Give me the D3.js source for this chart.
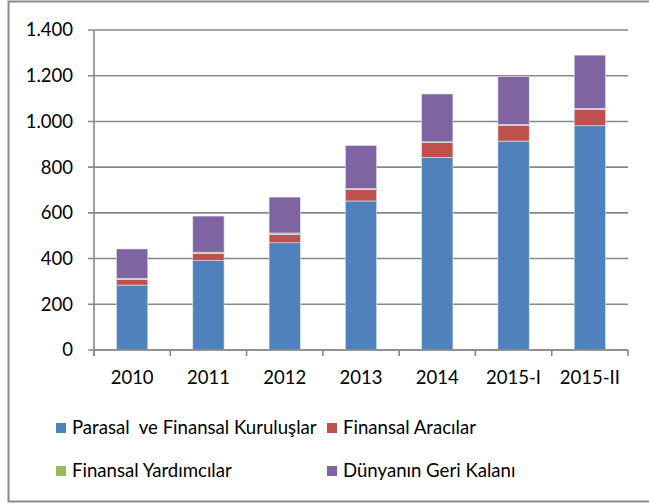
<!DOCTYPE html>
<html>
<head>
<meta charset="utf-8">
<script src="https://cdn.jsdelivr.net/npm/d3@7"></script>
<style>
  body { margin: 0; background: #fff; }
  svg text { font-family: Lato, "Open Sans", sans-serif; fill: #000; }
</style>
</head>
<body>
<svg id="chart" width="649" height="504"></svg>
<script>
var years = ['2010', '2011', '2012', '2013', '2014', '2015-I', '2015-II'];
var parasal = [284, 391, 469, 652, 843, 914, 981];
var aracilar = [25, 32, 37, 51, 64, 69, 72];
var yardimcilar = [4, 5, 6, 3, 4, 4, 4];
var dunya = [129, 158, 157, 189, 209, 209, 233];
var seriesNames = ['Parasal  ve Finansal Kuruluşlar', 'Finansal Aracılar', 'Finansal Yardımcılar', 'Dünyanın Geri Kalanı'];
var colors = ['#4f81bd', '#c0504d', '#9bbb59', '#8064a2'];
var yTicks = [0, 200, 400, 600, 800, 1000, 1200, 1400];

var svg = d3.select('#chart');
var plotLeft = 94, plotRight = 628, plotTop = 30, plotBottom = 350;

// outer frame
svg.append('rect')
	.attr('x', 8.5).attr('y', 1.5).attr('width', 660).attr('height', 500)
	.style('fill', 'none').style('stroke', '#8c8c8c').style('stroke-width', 2);

var x = d3.scaleBand().domain(years).range([plotLeft, plotRight]).paddingInner(0.59).paddingOuter(0.295);
var xb = d3.scaleBand().domain(years).range([plotLeft, plotRight]);
var y = d3.scaleLinear().domain([0, 1400]).range([plotBottom, plotTop]);

var fmt = function (d) { return d3.format(',')(d).replace(/,/g, '.'); };

// gridlines
svg.append('g').selectAll('line').data(yTicks).enter().append('line')
	.attr('x1', plotLeft - 6).attr('x2', plotRight)
	.attr('y1', function (d) { return y(d); }).attr('y2', function (d) { return y(d); })
	.style('stroke', '#888').style('stroke-width', 1.6);

svg.append('g').selectAll('text').data(yTicks).enter().append('text')
	.attr('x', 73).attr('y', function (d) { return y(d); })
	.attr('dy', '0.35em').attr('text-anchor', 'end')
	.style('font-size', '18.5px')
	.text(fmt);

// stacked bars
var rows = years.map(function (yr, i) {
	return {year: yr, s0: parasal[i], s1: aracilar[i], s2: yardimcilar[i], s3: dunya[i]};
});
var stack = d3.stack().keys(['s0', 's1', 's2', 's3'])(rows);

stack.forEach(function (layer, idx) {
	svg.append('g').selectAll('rect').data(layer).enter().append('rect')
		.attr('x', function (d) { return x(d.data.year); })
		.attr('width', x.bandwidth())
		.attr('y', function (d) { return y(d[1]); })
		.attr('height', function (d) { return y(d[0]) - y(d[1]); })
		.style('fill', colors[idx])
		.style('stroke', '#dde4f0').style('stroke-width', 0.6);
});

// axes lines
svg.append('line').attr('x1', plotLeft).attr('x2', plotLeft).attr('y1', plotTop).attr('y2', plotBottom + 6)
	.style('stroke', '#888').style('stroke-width', 1.6);
svg.append('line').attr('x1', plotLeft).attr('x2', plotRight).attr('y1', plotBottom).attr('y2', plotBottom)
	.style('stroke', '#888').style('stroke-width', 1.6);
var tickPos = years.map(function (d) { return xb(d); }).concat([plotRight]);
svg.append('g').selectAll('line').data(tickPos).enter().append('line')
	.attr('x1', function (d) { return d; }).attr('x2', function (d) { return d; })
	.attr('y1', plotBottom).attr('y2', plotBottom + 6)
	.style('stroke', '#888').style('stroke-width', 1.6);

svg.append('g').selectAll('text').data(years).enter().append('text')
	.attr('x', function (d) { return xb(d) + xb.bandwidth() / 2; })
	.attr('y', 384).attr('text-anchor', 'middle')
	.style('font-size', '18.5px')
	.text(function (d) { return d; });

// legend
var legendPos = [[56, 427], [327, 427], [56, 470], [327, 470]];
seriesNames.forEach(function (name, i) {
	var g = svg.append('g').attr('transform', 'translate(' + legendPos[i][0] + ',' + legendPos[i][1] + ')');
	g.append('rect').attr('x', 0).attr('y', -4).attr('width', 10).attr('height', 10).style('fill', colors[i]);
	g.append('text').attr('x', 16).attr('y', 0).attr('dy', '0.38em')
		.style('font-size', '18.6px').style('white-space', 'pre')
		.attr('xml:space', 'preserve')
		.text(name);
});
</script>
</body>
</html>
